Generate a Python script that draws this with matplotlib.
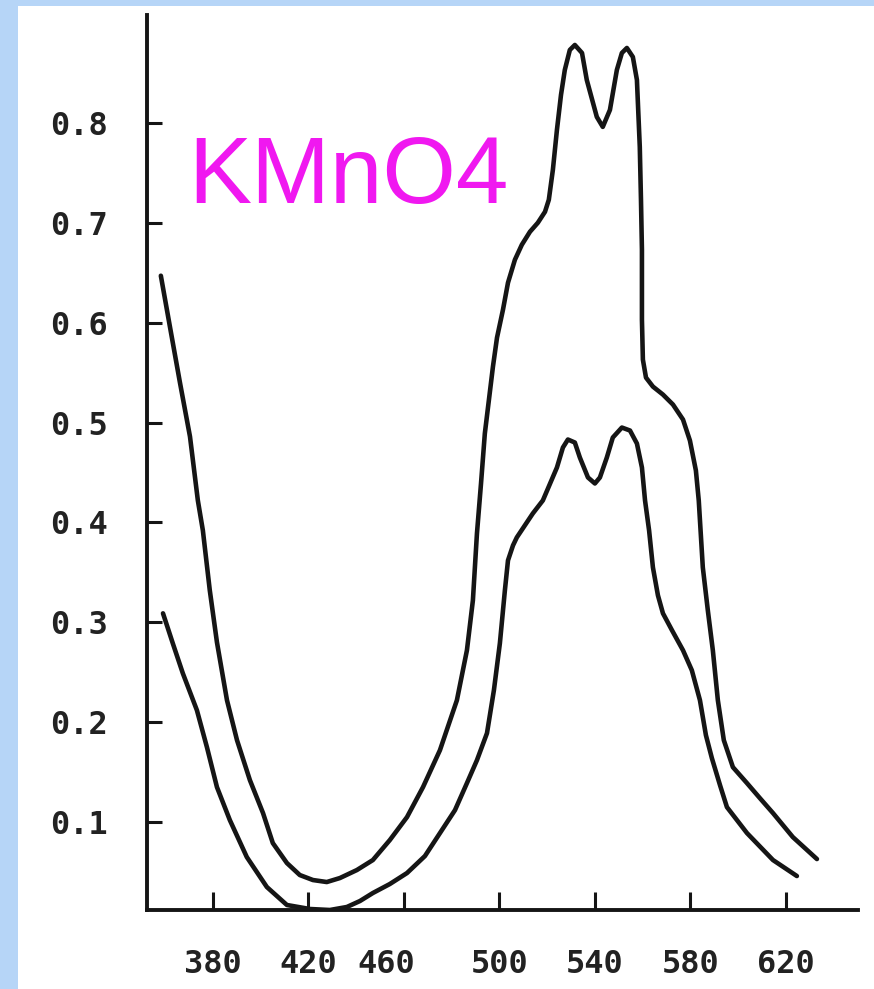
import matplotlib
matplotlib.use("Agg")
import matplotlib.pyplot as plt
import matplotlib.transforms as mtransforms
from matplotlib.patches import Rectangle

# ---- data ----
wl_upper = [358.2, 362.0, 366.2, 370.4, 373.7, 375.8, 378.7, 381.7, 385.9, 390.1,
            395.5, 401.0, 405.1, 411.0, 416.4, 421.9, 427.7, 433.2, 440.3, 447.0,
            454.1, 461.3, 468.0, 475.1, 482.2, 486.4, 488.9, 490.6, 492.3, 493.9,
            497.3, 499.0, 501.5, 503.6, 506.5, 509.4, 512.8, 516.1, 519.1, 520.7,
            522.4, 524.1, 525.8, 527.4, 529.5, 531.6, 534.6, 536.6, 540.8, 543.3,
            546.3, 549.2, 551.3, 553.4, 555.9, 557.6, 558.8, 559.3, 559.7, 559.7,
            560.1, 561.4, 564.3, 568.5, 572.7, 576.9, 579.8, 582.3, 583.5, 585.2,
            587.3, 589.4, 591.5, 594.0, 597.8, 603.7, 609.1, 614.6, 622.9, 633.0]
abs_upper = [0.647, 0.596, 0.540, 0.486, 0.422, 0.392, 0.332, 0.280, 0.222, 0.182,
             0.142, 0.109, 0.079, 0.059, 0.047, 0.042, 0.040, 0.044, 0.052, 0.062,
             0.082, 0.105, 0.135, 0.172, 0.222, 0.272, 0.322, 0.389, 0.439, 0.489,
             0.556, 0.585, 0.613, 0.640, 0.663, 0.678, 0.691, 0.700, 0.711, 0.723,
             0.753, 0.793, 0.828, 0.853, 0.873, 0.878, 0.870, 0.843, 0.806, 0.796,
             0.813, 0.853, 0.870, 0.875, 0.866, 0.843, 0.776, 0.723, 0.673, 0.603,
             0.563, 0.545, 0.536, 0.528, 0.518, 0.503, 0.482, 0.452, 0.422, 0.355,
             0.312, 0.272, 0.222, 0.182, 0.155, 0.139, 0.124, 0.109, 0.085, 0.063]

wl_lower = [359.1, 363.2, 367.4, 373.3, 377.5, 381.7, 387.1, 394.2, 402.6, 411.0,
            420.6, 429.0, 436.1, 441.6, 447.0, 454.1, 461.3, 468.8, 475.1, 481.4,
            486.4, 490.6, 494.8, 497.7, 500.2, 502.3, 503.6, 505.7, 507.3, 514.0,
            518.2, 524.1, 526.6, 528.7, 531.6, 533.7, 537.1, 540.0, 542.1, 545.0,
            547.5, 551.3, 554.7, 557.6, 559.7, 561.0, 562.7, 564.3, 566.4, 568.5,
            572.3, 576.9, 580.6, 584.0, 586.5, 589.0, 592.4, 595.3, 603.7, 614.6,
            624.6]
abs_lower = [0.309, 0.279, 0.249, 0.212, 0.175, 0.135, 0.102, 0.065, 0.035, 0.017,
             0.013, 0.012, 0.015, 0.021, 0.029, 0.038, 0.049, 0.066, 0.089, 0.112,
             0.139, 0.162, 0.189, 0.232, 0.279, 0.332, 0.362, 0.377, 0.385, 0.409,
             0.422, 0.455, 0.475, 0.483, 0.480, 0.465, 0.445, 0.439, 0.445, 0.465,
             0.485, 0.495, 0.492, 0.479, 0.455, 0.422, 0.392, 0.355, 0.327, 0.309,
             0.292, 0.272, 0.252, 0.222, 0.187, 0.164, 0.137, 0.115, 0.089, 0.062,
             0.046]

x_ticks = [380, 420, 460, 500, 540, 580, 620]
x_tick_labels = ["380", "420", "460", "500", "540", "580", "620"]
y_ticks = [0.1, 0.2, 0.3, 0.4, 0.5, 0.6, 0.7, 0.8]
y_tick_labels = ["0.1", "0.2", "0.3", "0.4", "0.5", "0.6", "0.7", "0.8"]
title_text = "KMnO4"

# ---- figure ----
W, H = 874, 989
fig = plt.figure(figsize=(W / 100, H / 100), dpi=100)
fig.patch.set_facecolor("#b6d5f7")
fig.patches.append(Rectangle((18 / W, 0), 1 - 18 / W, 1 - 6 / H,
                             transform=fig.transFigure, facecolor="white",
                             edgecolor="none", zorder=-5))

ax = fig.add_axes([147 / W, 1 - 910 / H, (858 - 147) / W, (910 - 15) / H])
ax.set_facecolor("none")
ax.set_zorder(2)

ink = "#151515"
ax.plot(wl_upper, abs_upper, color=ink, lw=3.3, solid_joinstyle="round",
        solid_capstyle="round")
ax.plot(wl_lower, abs_lower, color=ink, lw=3.3, solid_joinstyle="round",
        solid_capstyle="round")

ax.set_xlim(352.4, 650.2)
ax.set_ylim(0.012, 0.908)

for s in ["top", "right"]:
    ax.spines[s].set_visible(False)
for s in ["left", "bottom"]:
    ax.spines[s].set_linewidth(2.8)
    ax.spines[s].set_color(ink)

font = dict(family="DejaVu Sans Mono", weight="bold", size=23)
ax.set_xticks(x_ticks)
ax.set_xticklabels(x_tick_labels, fontdict=font)
ax.set_yticks(y_ticks)
ax.set_yticklabels(y_tick_labels, fontdict=font)
ax.tick_params(axis="x", direction="in", length=13, width=2.2, pad=28, colors=ink)
ax.tick_params(axis="y", direction="in", length=11, width=2.2, pad=28, colors=ink)
for lab in ax.get_xticklabels() + ax.get_yticklabels():
    lab.set_color("#222222")

# the "460" label sits left of its tick in the original
lab460 = ax.get_xticklabels()[2]
lab460.set_transform(lab460.get_transform() +
                     mtransforms.ScaledTranslation(-0.18, 0, fig.dpi_scale_trans))

fig.text(188 / W, 1 - 203 / H, title_text, color="#f018f0", fontsize=68,
         family="Liberation Sans", ha="left", va="baseline", zorder=3)

fig.savefig("out.png", dpi=100, facecolor=fig.get_facecolor())
